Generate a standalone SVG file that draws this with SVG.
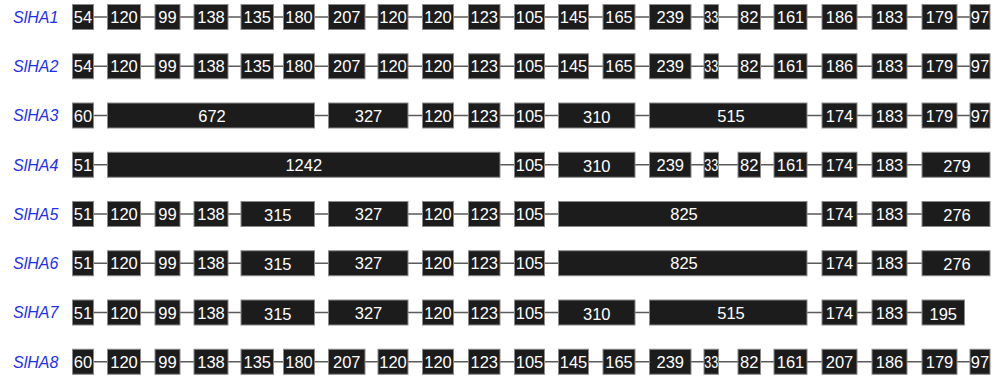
<svg xmlns="http://www.w3.org/2000/svg" width="1003" height="377" viewBox="0 0 1003 377">
<style>
.bg{fill:#ffffff}
.e rect{fill:#1c1c1c;stroke:#8a8a8a;stroke-width:1}
.e text{fill:#ffffff;font-family:"Liberation Sans",Arial,sans-serif;font-size:16.5px;text-anchor:middle}
.lbl{fill:#1f2ff0;font-family:"Liberation Sans",Arial,sans-serif;font-size:16px;font-style:italic}
.c{fill:none;stroke:#5a5a5a;stroke-width:1.5}
</style>
<rect class="bg" x="0" y="0" width="1003" height="377"/>
<g id="connectors">
<path class="c" transform="translate(0,17)" d="M93.5 0H107.5M140.5 0H155M180 0H194M228 0H241M273.5 0H283.5M314.5 0H328.5M365 0H378M408 0H422.5M453.5 0H468.5M500 0H514.5M544.5 0H558.5M588.5 0H603M635 0H649.5M691 0H704M718.5 0H738M760.5 0H774M807 0H822M857 0H872M907 0H922M957 0H970"/>
<path class="c" transform="translate(0,66.25)" d="M93.5 0H107.5M140.5 0H155M180 0H194M228 0H241M273.5 0H283.5M314.5 0H328.5M365 0H378M408 0H422.5M453.5 0H468.5M500 0H514.5M544.5 0H558.5M588.5 0H603M635 0H649.5M691 0H704M718.5 0H738M760.5 0H774M807 0H822M857 0H872M907 0H922M957 0H970"/>
<path class="c" transform="translate(0,115.5)" d="M93.5 0H107.5M314.5 0H328.5M408 0H422.5M453.5 0H468.5M500 0H514.5M544.5 0H558.5M635 0H649.5M807 0H822M857 0H872M907 0H922M957 0H970"/>
<path class="c" transform="translate(0,164.75)" d="M93.5 0H107.5M500 0H514.5M544.5 0H558.5M635 0H649.5M691 0H704M718.5 0H738M760.5 0H774M807 0H822M857 0H872M907 0H922"/>
<path class="c" transform="translate(0,214)" d="M93.5 0H107.5M140.5 0H155M180 0H194M228 0H241M314.5 0H328.5M408 0H422.5M453.5 0H468.5M500 0H514.5M544.5 0H558.5M807 0H822M857 0H872M907 0H922"/>
<path class="c" transform="translate(0,263.25)" d="M93.5 0H107.5M140.5 0H155M180 0H194M228 0H241M314.5 0H328.5M408 0H422.5M453.5 0H468.5M500 0H514.5M544.5 0H558.5M807 0H822M857 0H872M907 0H922"/>
<path class="c" transform="translate(0,312.5)" d="M93.5 0H107.5M140.5 0H155M180 0H194M228 0H241M314.5 0H328.5M408 0H422.5M453.5 0H468.5M500 0H514.5M544.5 0H558.5M635 0H649.5M807 0H822M857 0H872M907 0H922"/>
<path class="c" transform="translate(0,361.75)" d="M93.5 0H107.5M140.5 0H155M180 0H194M228 0H241M273.5 0H283.5M314.5 0H328.5M365 0H378M408 0H422.5M453.5 0H468.5M500 0H514.5M544.5 0H558.5M588.5 0H603M635 0H649.5M691 0H704M718.5 0H738M760.5 0H774M807 0H822M857 0H872M907 0H922M957 0H970"/>
</g>

<g id="labels">
<text class="lbl" x="13" y="22.8">SlHA1</text>
<text class="lbl" x="13" y="72">SlHA2</text>
<text class="lbl" x="13" y="121.3">SlHA3</text>
<text class="lbl" x="13" y="170.5">SlHA4</text>
<text class="lbl" x="13" y="219.8">SlHA5</text>
<text class="lbl" x="13" y="269">SlHA6</text>
<text class="lbl" x="13" y="318.3">SlHA7</text>
<text class="lbl" x="13" y="367.5">SlHA8</text>
</g>

<g id="SlHA1" transform="translate(0,17)">
<g id="r1e1" class="e"><rect x="72.5" y="-12.5" width="21" height="25"/><text x="83" y="6">54</text></g>
<g id="r1e2" class="e"><rect x="107.5" y="-12.5" width="33" height="25"/><text x="124" y="6">120</text></g>
<g id="r1e3" class="e"><rect x="155" y="-12.5" width="25" height="25"/><text x="167.5" y="6">99</text></g>
<g id="r1e4" class="e"><rect x="194" y="-12.5" width="34" height="25"/><text x="211" y="6">138</text></g>
<g id="r1e5" class="e"><rect x="241" y="-12.5" width="32.5" height="25"/><text x="257.25" y="6">135</text></g>
<g id="r1e6" class="e"><rect x="283.5" y="-12.5" width="31" height="25"/><text x="299" y="6">180</text></g>
<g id="r1e7" class="e"><rect x="328.5" y="-12.5" width="36.5" height="25"/><text x="346.75" y="6">207</text></g>
<g id="r1e8" class="e"><rect x="378" y="-12.5" width="30" height="25"/><text x="393" y="6">120</text></g>
<g id="r1e9" class="e"><rect x="422.5" y="-12.5" width="31" height="25"/><text x="438" y="6">120</text></g>
<g id="r1e10" class="e"><rect x="468.5" y="-12.5" width="31.5" height="25"/><text x="484.25" y="6">123</text></g>
<g id="r1e11" class="e"><rect x="514.5" y="-12.5" width="30" height="25"/><text x="529.5" y="6">105</text></g>
<g id="r1e12" class="e"><rect x="558.5" y="-12.5" width="30" height="25"/><text x="573.5" y="6">145</text></g>
<g id="r1e13" class="e"><rect x="603" y="-12.5" width="32" height="25"/><text x="619" y="6">165</text></g>
<g id="r1e14" class="e"><rect x="649.5" y="-12.5" width="41.5" height="25"/><text x="670.25" y="6">239</text></g>
<g id="r1e15" class="e"><rect x="704" y="-12.5" width="14.5" height="25"/><text x="711.25" y="6" textLength="14" lengthAdjust="spacingAndGlyphs">33</text></g>
<g id="r1e16" class="e"><rect x="738" y="-12.5" width="22.5" height="25"/><text x="749.25" y="6">82</text></g>
<g id="r1e17" class="e"><rect x="774" y="-12.5" width="33" height="25"/><text x="790.5" y="6">161</text></g>
<g id="r1e18" class="e"><rect x="822" y="-12.5" width="35" height="25"/><text x="839.5" y="6">186</text></g>
<g id="r1e19" class="e"><rect x="872" y="-12.5" width="35" height="25"/><text x="889.5" y="6">183</text></g>
<g id="r1e20" class="e"><rect x="922" y="-12.5" width="35" height="25"/><text x="939.5" y="6">179</text></g>
<g id="r1e21" class="e"><rect x="970" y="-12.5" width="20" height="25"/><text x="980" y="6">97</text></g>
</g>

<g id="SlHA2" transform="translate(0,66.25)">
<g id="r2e1" class="e"><rect x="72.5" y="-12.5" width="21" height="25"/><text x="83" y="6">54</text></g>
<g id="r2e2" class="e"><rect x="107.5" y="-12.5" width="33" height="25"/><text x="124" y="6">120</text></g>
<g id="r2e3" class="e"><rect x="155" y="-12.5" width="25" height="25"/><text x="167.5" y="6">99</text></g>
<g id="r2e4" class="e"><rect x="194" y="-12.5" width="34" height="25"/><text x="211" y="6">138</text></g>
<g id="r2e5" class="e"><rect x="241" y="-12.5" width="32.5" height="25"/><text x="257.25" y="6">135</text></g>
<g id="r2e6" class="e"><rect x="283.5" y="-12.5" width="31" height="25"/><text x="299" y="6">180</text></g>
<g id="r2e7" class="e"><rect x="328.5" y="-12.5" width="36.5" height="25"/><text x="346.75" y="6">207</text></g>
<g id="r2e8" class="e"><rect x="378" y="-12.5" width="30" height="25"/><text x="393" y="6">120</text></g>
<g id="r2e9" class="e"><rect x="422.5" y="-12.5" width="31" height="25"/><text x="438" y="6">120</text></g>
<g id="r2e10" class="e"><rect x="468.5" y="-12.5" width="31.5" height="25"/><text x="484.25" y="6">123</text></g>
<g id="r2e11" class="e"><rect x="514.5" y="-12.5" width="30" height="25"/><text x="529.5" y="6">105</text></g>
<g id="r2e12" class="e"><rect x="558.5" y="-12.5" width="30" height="25"/><text x="573.5" y="6">145</text></g>
<g id="r2e13" class="e"><rect x="603" y="-12.5" width="32" height="25"/><text x="619" y="6">165</text></g>
<g id="r2e14" class="e"><rect x="649.5" y="-12.5" width="41.5" height="25"/><text x="670.25" y="6">239</text></g>
<g id="r2e15" class="e"><rect x="704" y="-12.5" width="14.5" height="25"/><text x="711.25" y="6" textLength="14" lengthAdjust="spacingAndGlyphs">33</text></g>
<g id="r2e16" class="e"><rect x="738" y="-12.5" width="22.5" height="25"/><text x="749.25" y="6">82</text></g>
<g id="r2e17" class="e"><rect x="774" y="-12.5" width="33" height="25"/><text x="790.5" y="6">161</text></g>
<g id="r2e18" class="e"><rect x="822" y="-12.5" width="35" height="25"/><text x="839.5" y="6">186</text></g>
<g id="r2e19" class="e"><rect x="872" y="-12.5" width="35" height="25"/><text x="889.5" y="6">183</text></g>
<g id="r2e20" class="e"><rect x="922" y="-12.5" width="35" height="25"/><text x="939.5" y="6">179</text></g>
<g id="r2e21" class="e"><rect x="970" y="-12.5" width="20" height="25"/><text x="980" y="6">97</text></g>
</g>

<g id="SlHA3" transform="translate(0,115.5)">
<g id="r3e1" class="e"><rect x="72.5" y="-12.5" width="21" height="25"/><text x="83" y="6">60</text></g>
<g id="r3e2" class="e"><rect x="107.5" y="-12.5" width="207" height="25"/><text x="212" y="6">672</text></g>
<g id="r3e3" class="e"><rect x="328.5" y="-12.5" width="79.5" height="25"/><text x="368.5" y="6">327</text></g>
<g id="r3e4" class="e"><rect x="422.5" y="-12.5" width="31" height="25"/><text x="438" y="6">120</text></g>
<g id="r3e5" class="e"><rect x="468.5" y="-12.5" width="31.5" height="25"/><text x="484.25" y="6">123</text></g>
<g id="r3e6" class="e"><rect x="514.5" y="-12.5" width="30" height="25"/><text x="529.5" y="6">105</text></g>
<g id="r3e7" class="e"><rect x="558.5" y="-12.5" width="76.5" height="25"/><text x="596.75" y="7.5">310</text></g>
<g id="r3e8" class="e"><rect x="649.5" y="-12.5" width="157.5" height="25"/><text x="731" y="6">515</text></g>
<g id="r3e9" class="e"><rect x="822" y="-12.5" width="35" height="25"/><text x="839.5" y="6">174</text></g>
<g id="r3e10" class="e"><rect x="872" y="-12.5" width="35" height="25"/><text x="889.5" y="6">183</text></g>
<g id="r3e11" class="e"><rect x="922" y="-12.5" width="35" height="25"/><text x="939.5" y="6">179</text></g>
<g id="r3e12" class="e"><rect x="970" y="-12.5" width="20" height="25"/><text x="980" y="6">97</text></g>
</g>

<g id="SlHA4" transform="translate(0,164.75)">
<g id="r4e1" class="e"><rect x="72.5" y="-12.5" width="21" height="25"/><text x="83" y="6">51</text></g>
<g id="r4e2" class="e"><rect x="107.5" y="-12.5" width="392.5" height="25"/><text x="303.75" y="6">1242</text></g>
<g id="r4e3" class="e"><rect x="514.5" y="-12.5" width="30" height="25"/><text x="529.5" y="6">105</text></g>
<g id="r4e4" class="e"><rect x="558.5" y="-12.5" width="76.5" height="25"/><text x="596.75" y="7.5">310</text></g>
<g id="r4e5" class="e"><rect x="649.5" y="-12.5" width="41.5" height="25"/><text x="670.25" y="6">239</text></g>
<g id="r4e6" class="e"><rect x="704" y="-12.5" width="14.5" height="25"/><text x="711.25" y="6" textLength="14" lengthAdjust="spacingAndGlyphs">33</text></g>
<g id="r4e7" class="e"><rect x="738" y="-12.5" width="22.5" height="25"/><text x="749.25" y="6">82</text></g>
<g id="r4e8" class="e"><rect x="774" y="-12.5" width="33" height="25"/><text x="790.5" y="6">161</text></g>
<g id="r4e9" class="e"><rect x="822" y="-12.5" width="35" height="25"/><text x="839.5" y="6">174</text></g>
<g id="r4e10" class="e"><rect x="872" y="-12.5" width="35" height="25"/><text x="889.5" y="6">183</text></g>
<g id="r4e11" class="e"><rect x="922" y="-12.5" width="68" height="25"/><text x="957" y="7">279</text></g>
</g>

<g id="SlHA5" transform="translate(0,214)">
<g id="r5e1" class="e"><rect x="72.5" y="-12.5" width="21" height="25"/><text x="83" y="6">51</text></g>
<g id="r5e2" class="e"><rect x="107.5" y="-12.5" width="33" height="25"/><text x="124" y="6">120</text></g>
<g id="r5e3" class="e"><rect x="155" y="-12.5" width="25" height="25"/><text x="167.5" y="6">99</text></g>
<g id="r5e4" class="e"><rect x="194" y="-12.5" width="34" height="25"/><text x="211" y="6">138</text></g>
<g id="r5e5" class="e"><rect x="241" y="-12.5" width="73.5" height="25"/><text x="277.75" y="7">315</text></g>
<g id="r5e6" class="e"><rect x="328.5" y="-12.5" width="79.5" height="25"/><text x="368.5" y="6">327</text></g>
<g id="r5e7" class="e"><rect x="422.5" y="-12.5" width="31" height="25"/><text x="438" y="6">120</text></g>
<g id="r5e8" class="e"><rect x="468.5" y="-12.5" width="31.5" height="25"/><text x="484.25" y="6">123</text></g>
<g id="r5e9" class="e"><rect x="514.5" y="-12.5" width="30" height="25"/><text x="529.5" y="6">105</text></g>
<g id="r5e10" class="e"><rect x="558.5" y="-12.5" width="248.5" height="25"/><text x="684" y="6">825</text></g>
<g id="r5e11" class="e"><rect x="822" y="-12.5" width="35" height="25"/><text x="839.5" y="6">174</text></g>
<g id="r5e12" class="e"><rect x="872" y="-12.5" width="35" height="25"/><text x="889.5" y="6">183</text></g>
<g id="r5e13" class="e"><rect x="922" y="-12.5" width="68" height="25"/><text x="957" y="7">276</text></g>
</g>

<g id="SlHA6" transform="translate(0,263.25)">
<g id="r6e1" class="e"><rect x="72.5" y="-12.5" width="21" height="25"/><text x="83" y="6">51</text></g>
<g id="r6e2" class="e"><rect x="107.5" y="-12.5" width="33" height="25"/><text x="124" y="6">120</text></g>
<g id="r6e3" class="e"><rect x="155" y="-12.5" width="25" height="25"/><text x="167.5" y="6">99</text></g>
<g id="r6e4" class="e"><rect x="194" y="-12.5" width="34" height="25"/><text x="211" y="6">138</text></g>
<g id="r6e5" class="e"><rect x="241" y="-12.5" width="73.5" height="25"/><text x="277.75" y="7">315</text></g>
<g id="r6e6" class="e"><rect x="328.5" y="-12.5" width="79.5" height="25"/><text x="368.5" y="6">327</text></g>
<g id="r6e7" class="e"><rect x="422.5" y="-12.5" width="31" height="25"/><text x="438" y="6">120</text></g>
<g id="r6e8" class="e"><rect x="468.5" y="-12.5" width="31.5" height="25"/><text x="484.25" y="6">123</text></g>
<g id="r6e9" class="e"><rect x="514.5" y="-12.5" width="30" height="25"/><text x="529.5" y="6">105</text></g>
<g id="r6e10" class="e"><rect x="558.5" y="-12.5" width="248.5" height="25"/><text x="684" y="6">825</text></g>
<g id="r6e11" class="e"><rect x="822" y="-12.5" width="35" height="25"/><text x="839.5" y="6">174</text></g>
<g id="r6e12" class="e"><rect x="872" y="-12.5" width="35" height="25"/><text x="889.5" y="6">183</text></g>
<g id="r6e13" class="e"><rect x="922" y="-12.5" width="68" height="25"/><text x="957" y="7">276</text></g>
</g>

<g id="SlHA7" transform="translate(0,312.5)">
<g id="r7e1" class="e"><rect x="72.5" y="-12.5" width="21" height="25"/><text x="83" y="6">51</text></g>
<g id="r7e2" class="e"><rect x="107.5" y="-12.5" width="33" height="25"/><text x="124" y="6">120</text></g>
<g id="r7e3" class="e"><rect x="155" y="-12.5" width="25" height="25"/><text x="167.5" y="6">99</text></g>
<g id="r7e4" class="e"><rect x="194" y="-12.5" width="34" height="25"/><text x="211" y="6">138</text></g>
<g id="r7e5" class="e"><rect x="241" y="-12.5" width="73.5" height="25"/><text x="277.75" y="7">315</text></g>
<g id="r7e6" class="e"><rect x="328.5" y="-12.5" width="79.5" height="25"/><text x="368.5" y="6">327</text></g>
<g id="r7e7" class="e"><rect x="422.5" y="-12.5" width="31" height="25"/><text x="438" y="6">120</text></g>
<g id="r7e8" class="e"><rect x="468.5" y="-12.5" width="31.5" height="25"/><text x="484.25" y="6">123</text></g>
<g id="r7e9" class="e"><rect x="514.5" y="-12.5" width="30" height="25"/><text x="529.5" y="6">105</text></g>
<g id="r7e10" class="e"><rect x="558.5" y="-12.5" width="76.5" height="25"/><text x="596.75" y="7.5">310</text></g>
<g id="r7e11" class="e"><rect x="649.5" y="-12.5" width="157.5" height="25"/><text x="731" y="6">515</text></g>
<g id="r7e12" class="e"><rect x="822" y="-12.5" width="35" height="25"/><text x="839.5" y="6">174</text></g>
<g id="r7e13" class="e"><rect x="872" y="-12.5" width="35" height="25"/><text x="889.5" y="6">183</text></g>
<g id="r7e14" class="e"><rect x="922" y="-12.5" width="42.5" height="25"/><text x="943.25" y="7">195</text></g>
</g>

<g id="SlHA8" transform="translate(0,361.75)">
<g id="r8e1" class="e"><rect x="72.5" y="-12.5" width="21" height="25"/><text x="83" y="6">60</text></g>
<g id="r8e2" class="e"><rect x="107.5" y="-12.5" width="33" height="25"/><text x="124" y="6">120</text></g>
<g id="r8e3" class="e"><rect x="155" y="-12.5" width="25" height="25"/><text x="167.5" y="6">99</text></g>
<g id="r8e4" class="e"><rect x="194" y="-12.5" width="34" height="25"/><text x="211" y="6">138</text></g>
<g id="r8e5" class="e"><rect x="241" y="-12.5" width="32.5" height="25"/><text x="257.25" y="6">135</text></g>
<g id="r8e6" class="e"><rect x="283.5" y="-12.5" width="31" height="25"/><text x="299" y="6">180</text></g>
<g id="r8e7" class="e"><rect x="328.5" y="-12.5" width="36.5" height="25"/><text x="346.75" y="6">207</text></g>
<g id="r8e8" class="e"><rect x="378" y="-12.5" width="30" height="25"/><text x="393" y="6">120</text></g>
<g id="r8e9" class="e"><rect x="422.5" y="-12.5" width="31" height="25"/><text x="438" y="6">120</text></g>
<g id="r8e10" class="e"><rect x="468.5" y="-12.5" width="31.5" height="25"/><text x="484.25" y="6">123</text></g>
<g id="r8e11" class="e"><rect x="514.5" y="-12.5" width="30" height="25"/><text x="529.5" y="6">105</text></g>
<g id="r8e12" class="e"><rect x="558.5" y="-12.5" width="30" height="25"/><text x="573.5" y="6">145</text></g>
<g id="r8e13" class="e"><rect x="603" y="-12.5" width="32" height="25"/><text x="619" y="6">165</text></g>
<g id="r8e14" class="e"><rect x="649.5" y="-12.5" width="41.5" height="25"/><text x="670.25" y="6">239</text></g>
<g id="r8e15" class="e"><rect x="704" y="-12.5" width="14.5" height="25"/><text x="711.25" y="6" textLength="14" lengthAdjust="spacingAndGlyphs">33</text></g>
<g id="r8e16" class="e"><rect x="738" y="-12.5" width="22.5" height="25"/><text x="749.25" y="6">82</text></g>
<g id="r8e17" class="e"><rect x="774" y="-12.5" width="33" height="25"/><text x="790.5" y="6">161</text></g>
<g id="r8e18" class="e"><rect x="822" y="-12.5" width="35" height="25"/><text x="839.5" y="6">207</text></g>
<g id="r8e19" class="e"><rect x="872" y="-12.5" width="35" height="25"/><text x="889.5" y="6">186</text></g>
<g id="r8e20" class="e"><rect x="922" y="-12.5" width="35" height="25"/><text x="939.5" y="6">179</text></g>
<g id="r8e21" class="e"><rect x="970" y="-12.5" width="20" height="25"/><text x="980" y="6">97</text></g>
</g>
</svg>
